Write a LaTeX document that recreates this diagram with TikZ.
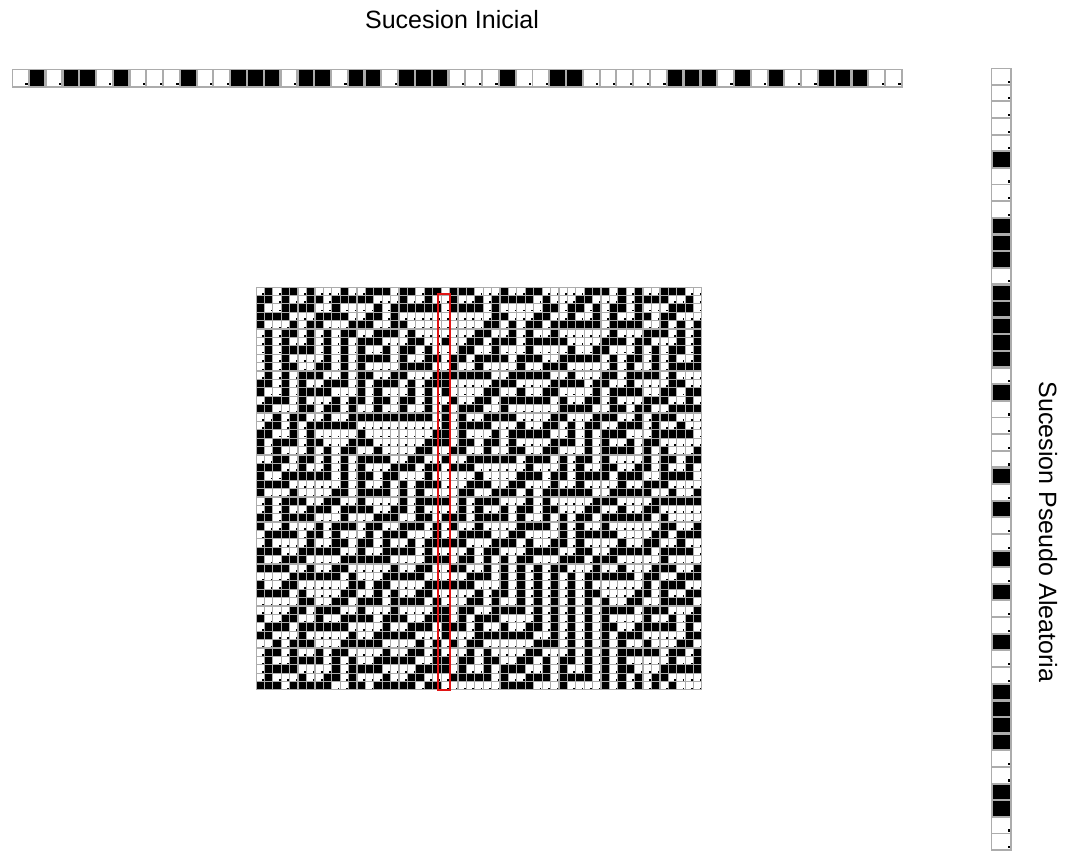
\documentclass[tikz,border=0pt]{standalone}
\usepackage{fontspec}
\setmainfont{Liberation Sans}
\definecolor{gridgray}{RGB}{172,172,172}
\definecolor{framered}{RGB}{225,20,20}
% initial sequence (53 cells)
\def\initseq{0,1,0,1,1,0,1,0,0,0,1,0,0,1,1,1,0,1,1,0,1,1,0,1,1,1,0,0,0,1,0,0,1,1,0,0,0,0,0,1,1,1,0,1,0,1,0,0,1,1,1,0,0}
% extracted column (47 cells)
\def\stripseq{0,0,0,0,0,1,0,0,0,1,1,1,0,1,1,1,1,1,0,1,0,0,0,0,1,0,1,0,0,1,0,1,0,0,1,0,0,1,1,1,1,0,0,1,1,0,0}
\def\defrule#1#2#3#4#5#6#7#8{%
  \expandafter\def\csname rl111\endcsname{#1}%
  \expandafter\def\csname rl110\endcsname{#2}%
  \expandafter\def\csname rl101\endcsname{#3}%
  \expandafter\def\csname rl100\endcsname{#4}%
  \expandafter\def\csname rl011\endcsname{#5}%
  \expandafter\def\csname rl010\endcsname{#6}%
  \expandafter\def\csname rl001\endcsname{#7}%
  \expandafter\def\csname rl000\endcsname{#8}}
\defrule 00011110
\foreach \v [count=\k from 0] in \initseq {\expandafter\xdef\csname c-0-\k\endcsname{\v}}
\foreach \r in {1,...,47}{%
  \pgfmathtruncatemacro\pr{\r-1}%
  \foreach \i in {0,...,52}{%
    \pgfmathtruncatemacro\il{mod(\i+52,53)}%
    \pgfmathtruncatemacro\ir{mod(\i+1,53)}%
    \edef\key{\csname c-\pr-\il\endcsname\csname c-\pr-\i\endcsname\csname c-\pr-\ir\endcsname}%
    \expandafter\xdef\csname c-\r-\i\endcsname{\csname rl\key\endcsname}%
  }%
}
\foreach \v [count=\k from 1] in \stripseq {\expandafter\xdef\csname c-\k-22\endcsname{\v}}
\tikzset{
  lbl/.style={inner sep=0pt, font=\fontsize{25}{30}\selectfont},
  blk/.style={fill=black},
  wht/.style={fill=white},
}
\begin{document}
\begin{tikzpicture}[x=1pt,y=-1pt]
\useasboundingbox (0,0) rectangle (1067,859);
\fill[white] (0,0) rectangle (1067,859);
\node[lbl] (title) at (452,20) {Sucesion Inicial};
\node[lbl, rotate=-90] (side) at (1048,532) {Sucesion Pseudo Aleatoria};
% top strip
\fill[gridgray] (11.5,68.5) rectangle (902.5,87.5);
\foreach \v [count=\k from 0] in \initseq {%
  \pgfmathsetmacro\xa{12+\k*16.79}%
  \ifnum\v=1
    \fill[blk] (\xa+1.2,70) rectangle ++(14.4,16);
  \else
    \fill[wht] (\xa+1.0,69.6) rectangle ++(14.8,16.8);
    \fill[blk] (\xa+13.3,83.2) rectangle ++(2.2,2.2);
  \fi
}
% right strip
\fill[gridgray] (990.8,67.5) rectangle (1011.5,850.5);
\foreach \k in {0,...,46}{%
  \pgfmathtruncatemacro\rr{\k+1}%
  \pgfmathsetmacro\ya{68+\k*16.64}%
  \ifnum\csname c-\rr-22\endcsname=1
    \fill[blk] (992.5,\ya+1.2) rectangle ++(17.3,14.3);
  \else
    \fill[wht] (992.2,\ya+1.0) rectangle ++(17.9,14.7);
    \fill[blk] (1007.6,\ya+12.6) rectangle ++(2.2,2.2);
  \fi
}
% main grid
\fill[gridgray] (256,287) rectangle (702,690);
\foreach \r in {0,...,47}{%
  \foreach \i in {0,...,52}{%
    \pgfmathsetmacro\xa{256+\i*8.415}%
    \pgfmathsetmacro\ya{287+\r*8.396}%
    \ifnum\csname c-\r-\i\endcsname=1
      \fill[blk] (\xa+0.6,\ya+0.6) rectangle ++(7.2,7.2);
    \else
      \fill[wht] (\xa+0.6,\ya+0.6) rectangle ++(7.2,7.2);
      \fill[blk] (\xa+6.1,\ya+6.1) rectangle ++(1.6,1.6);
    \fi
  }%
}
\draw[framered, line width=2pt] (438,293.5) rectangle (450,690);
\end{tikzpicture}
\end{document}
